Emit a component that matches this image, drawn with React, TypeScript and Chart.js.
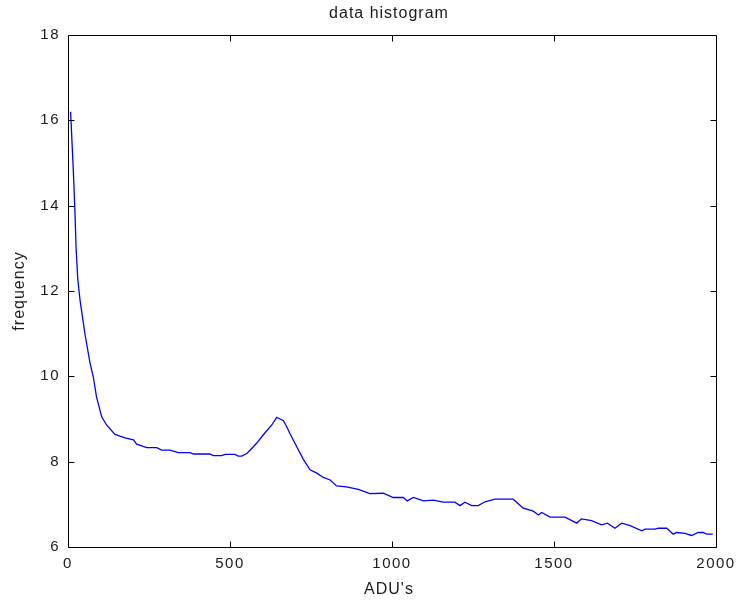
import React, { useEffect, useRef } from "react";
import { Chart, registerables } from "chart.js";

Chart.register(...registerables);

// Histogram counts (frequency) against ADU bins
const adu = [
  8, 16, 21, 25, 30, 37, 52, 68, 78, 88, 104, 119, 145, 176, 202, 212, 243, 274,
  289, 315, 340, 377, 387, 438, 448, 474, 485, 515, 526, 536, 552, 567, 582, 603,
  629, 644, 665, 675, 685, 706, 726, 747, 768, 788, 809, 829, 860, 896, 932, 973,
  1004, 1035, 1047, 1066, 1097, 1128, 1158, 1194, 1210, 1225, 1246, 1266, 1287,
  1318, 1374, 1405, 1436, 1452, 1462, 1488, 1534, 1570, 1585, 1616, 1647, 1665,
  1688, 1709, 1735, 1771, 1781, 1812, 1822, 1848, 1868, 1878, 1904, 1925, 1945,
  1960, 1971, 1990,
];
const frequency = [
  16.2, 14.9, 13.95, 13.0, 12.3, 11.79, 11.01, 10.31, 9.99, 9.52, 9.05, 8.86,
  8.64, 8.56, 8.51, 8.41, 8.33, 8.33, 8.27, 8.27, 8.21, 8.21, 8.18, 8.18, 8.14,
  8.14, 8.17, 8.17, 8.13, 8.13, 8.19, 8.31, 8.43, 8.63, 8.86, 9.04, 8.96, 8.82,
  8.66, 8.35, 8.06, 7.81, 7.73, 7.63, 7.57, 7.43, 7.41, 7.35, 7.25, 7.26, 7.16,
  7.16, 7.08, 7.16, 7.08, 7.1, 7.05, 7.05, 6.97, 7.05, 6.97, 6.97, 7.06, 7.12,
  7.12, 6.91, 6.84, 6.75, 6.81, 6.7, 6.7, 6.56, 6.66, 6.62, 6.52, 6.56, 6.44,
  6.56, 6.5, 6.38, 6.42, 6.42, 6.44, 6.44, 6.3, 6.34, 6.32, 6.27, 6.34, 6.34,
  6.3, 6.3,
];

const xTicks = [0, 500, 1000, 1500, 2000];
const yTicks = [6, 8, 10, 12, 14, 16, 18];

const chartTitle = "data histogram";
const xTitle = "ADU's";
const yTitle = "frequency";

const FONT = "'Liberation Sans', Arial, sans-serif";
const INK = "#1a1a1a";

// Axes box, inward tick marks and the three titles
const framePlugin = {
  id: "frame",
  beforeDraw(chart: any) {
    chart.ctx.letterSpacing = "1.5px";
  },
  afterDraw(chart: any) {
    const ctx = chart.ctx as CanvasRenderingContext2D;
    const { left, right, top, bottom } = chart.chartArea;
    const l = Math.round(left) + 0.5;
    const r = Math.round(right) + 0.5;
    const t = Math.round(top) + 0.5;
    const b = Math.round(bottom) + 0.5;
    const len = 6;
    ctx.save();
    ctx.strokeStyle = "#000";
    ctx.lineWidth = 1;
    ctx.beginPath();
    ctx.rect(l, t, r - l, b - t);
    chart.scales.x.ticks.forEach((tk: any) => {
      const px = Math.round(chart.scales.x.getPixelForValue(tk.value)) + 0.5;
      ctx.moveTo(px, b);
      ctx.lineTo(px, b - len);
      ctx.moveTo(px, t);
      ctx.lineTo(px, t + len);
    });
    chart.scales.y.ticks.forEach((tk: any) => {
      const py = Math.round(chart.scales.y.getPixelForValue(tk.value)) + 0.5;
      ctx.moveTo(l, py);
      ctx.lineTo(l + len, py);
      ctx.moveTo(r, py);
      ctx.lineTo(r - len, py);
    });
    ctx.stroke();

    ctx.fillStyle = INK;
    ctx.font = `16px ${FONT}`;
    ctx.letterSpacing = "1px";
    ctx.textAlign = "center";
    ctx.textBaseline = "middle";
    const cx = (left + right) / 2 - 3;
    ctx.fillText(chartTitle, cx, 14);
    ctx.fillText(xTitle, cx, 590);
    ctx.translate(20, (top + bottom) / 2);
    ctx.rotate(-Math.PI / 2);
    ctx.fillText(yTitle, 0, 0);
    ctx.restore();
  },
};

export default function App() {
  const ref = useRef<HTMLCanvasElement>(null);

  useEffect(() => {
    if (!ref.current) return;
    const chart = new Chart(ref.current, {
      type: "line",
      data: {
        datasets: [
          {
            data: adu.map((x, i) => ({ x, y: frequency[i] })),
            borderColor: "#0000ff",
            borderWidth: 1.3,
            pointRadius: 0,
            tension: 0,
            fill: false,
          },
        ],
      },
      options: {
        responsive: false,
        animation: false,
        events: [],
        layout: { padding: { left: 0, right: 21, top: 35, bottom: 0 } },
        plugins: {
          legend: { display: false },
          title: { display: false },
          tooltip: { enabled: false },
        },
        scales: {
          x: {
            type: "linear",
            min: 0,
            max: 2000,
            afterBuildTicks: (s: any) => {
              s.ticks = xTicks.map((v) => ({ value: v }));
            },
            afterFit: (s: any) => {
              s.height = 56;
              s.paddingLeft = 0;
              s.paddingRight = 0;
            },
            grid: { display: false, drawTicks: false },
            border: { display: false },
            ticks: {
              padding: 8,
              maxRotation: 0,
              color: INK,
              font: { family: FONT, size: 15 },
              callback: (v: any) => String(v),
            },
          },
          y: {
            type: "linear",
            min: 6,
            max: 18,
            afterBuildTicks: (s: any) => {
              s.ticks = yTicks.map((v) => ({ value: v }));
            },
            afterFit: (s: any) => {
              s.width = 68;
              s.paddingTop = 0;
              s.paddingBottom = 0;
            },
            grid: { display: false, drawTicks: false },
            border: { display: false },
            ticks: {
              padding: 8,
              color: INK,
              font: { family: FONT, size: 15 },
              callback: (v: any) => String(v),
            },
          },
        },
      },
      plugins: [framePlugin],
    });
    return () => chart.destroy();
  }, []);

  return (
    <div
      style={{
        position: "absolute",
        left: 0,
        top: 0,
        width: 737,
        height: 603,
        background: "#fff",
      }}
    >
      <canvas ref={ref} width={737} height={603} style={{ display: "block" }} />
    </div>
  );
}
